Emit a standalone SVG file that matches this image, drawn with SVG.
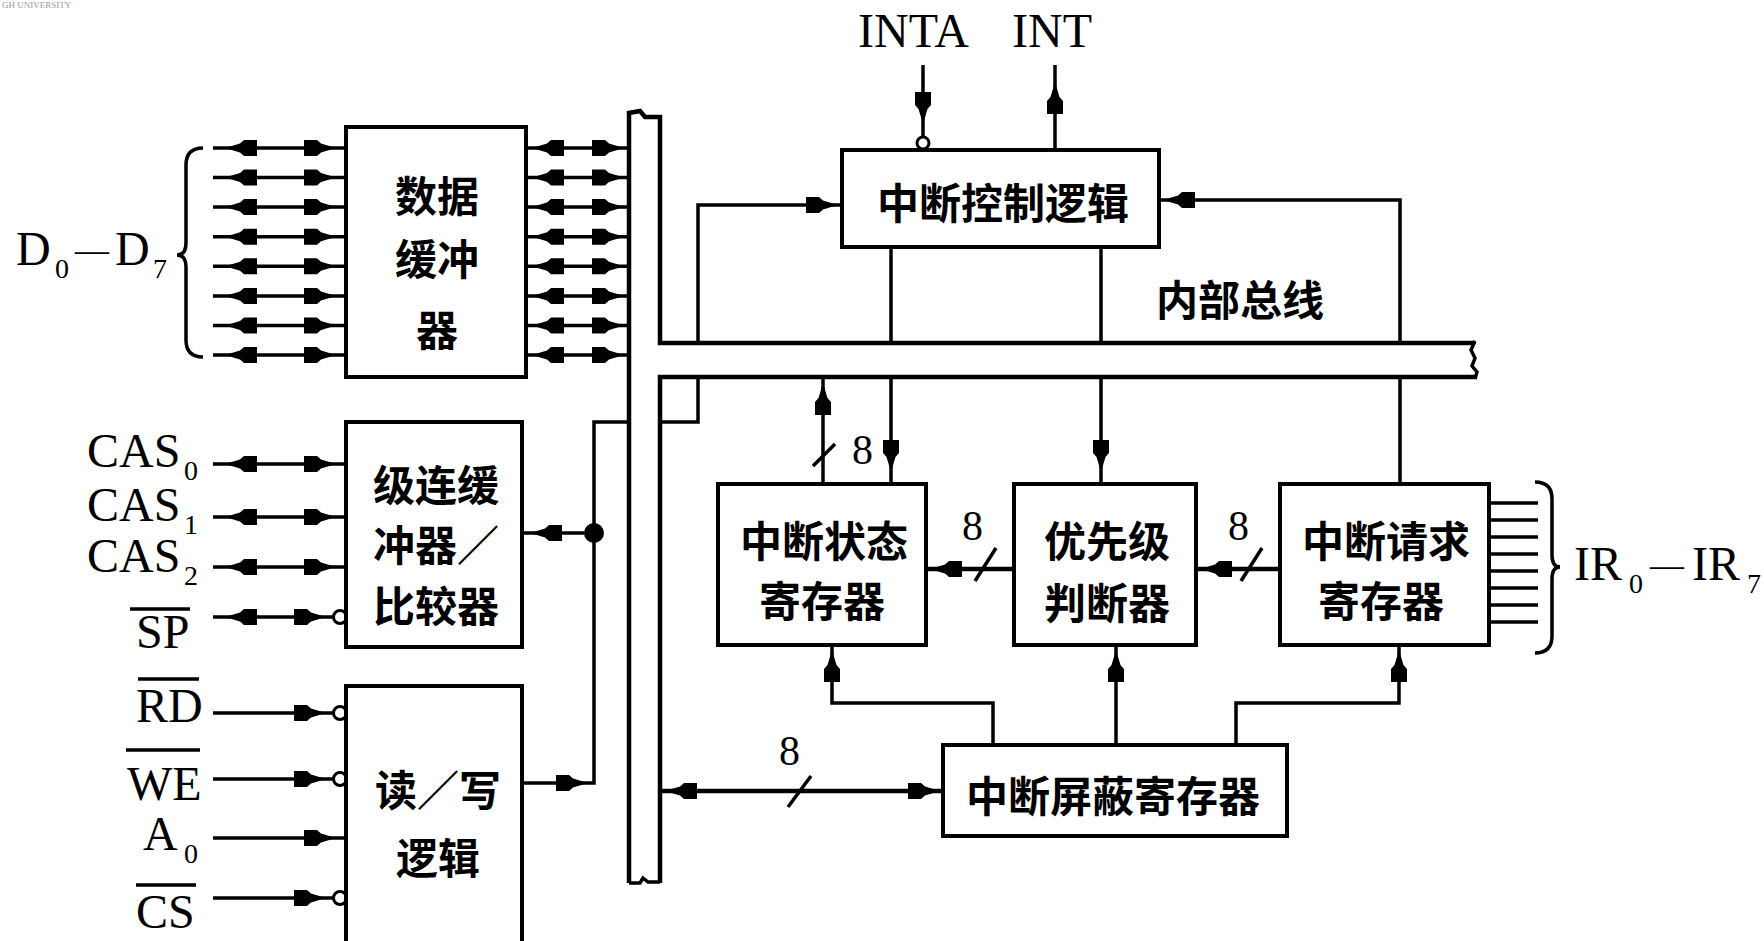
<svg xmlns="http://www.w3.org/2000/svg" xmlns:xlink="http://www.w3.org/1999/xlink" width="1764" height="941" viewBox="0 0 1764 941">
<style>
.ln{stroke:#000;stroke-width:3.5;fill:none}
.tk{stroke:#000;stroke-width:4.5;fill:none}
.box{stroke:#000;stroke-width:4;fill:#fff}
.bub{stroke:#000;stroke-width:3;fill:#fff}
.cjk{font-family:"Noto Sans CJK SC","Noto Sans CJK TC",sans-serif;font-size:42px;text-anchor:middle;dominant-baseline:central;font-weight:700;fill:#000}
.lat{font-family:"Liberation Serif",serif;font-size:48px;fill:#000}
.sub{font-size:28px}
.num{font-family:"Liberation Serif",serif;font-size:42px;fill:#000}
.wm{font-family:"Liberation Serif",serif;font-size:9px;fill:#999}
</style>
<defs>
<path id="ah" d="M0,0 L-15,-4.5 L-19,-8 L-32,-8 L-32,8 L-19,8 L-15,4.5 Z" fill="#000"/>
</defs>
<rect width="1764" height="941" fill="#fff"/>
<text class="wm" x="2" y="8">GH UNIVERSITY</text>

<!-- buses -->
<g id="system-bus">
<path class="tk" d="M629,883 L629,113 L640,111 L645,117 L660,117 L660,343 L1475,343"/>
<path class="tk" d="M660,883 L660,377 L1475,377"/>
<path class="ln" d="M629,883 L640,883 L643,878 L648,882 L660,882"/>
<path class="ln" d="M1475,341 L1471,350 L1475,358 L1472,366 L1477,372 L1475,379"/>
</g>

<!-- connectors -->
<g id="connectors">
<g class="ln">
<path d="M213,148 H346 M213,177.6 H346 M213,207.1 H346 M213,236.7 H346 M213,266.3 H346 M213,295.9 H346 M213,325.4 H346 M213,355 H346"/>
<path d="M526,148 H629 M526,177.6 H629 M526,207.1 H629 M526,236.7 H629 M526,266.3 H629 M526,295.9 H629 M526,325.4 H629 M526,355 H629"/>
</g>
<g>
<use href="#ah" transform="translate(225,148) rotate(180)"/><use href="#ah" transform="translate(336,148)"/>
<use href="#ah" transform="translate(225,177.6) rotate(180)"/><use href="#ah" transform="translate(336,177.6)"/>
<use href="#ah" transform="translate(225,207.1) rotate(180)"/><use href="#ah" transform="translate(336,207.1)"/>
<use href="#ah" transform="translate(225,236.7) rotate(180)"/><use href="#ah" transform="translate(336,236.7)"/>
<use href="#ah" transform="translate(225,266.3) rotate(180)"/><use href="#ah" transform="translate(336,266.3)"/>
<use href="#ah" transform="translate(225,295.9) rotate(180)"/><use href="#ah" transform="translate(336,295.9)"/>
<use href="#ah" transform="translate(225,325.4) rotate(180)"/><use href="#ah" transform="translate(336,325.4)"/>
<use href="#ah" transform="translate(225,355) rotate(180)"/><use href="#ah" transform="translate(336,355)"/>
<use href="#ah" transform="translate(532,148) rotate(180)"/><use href="#ah" transform="translate(624,148)"/>
<use href="#ah" transform="translate(532,177.6) rotate(180)"/><use href="#ah" transform="translate(624,177.6)"/>
<use href="#ah" transform="translate(532,207.1) rotate(180)"/><use href="#ah" transform="translate(624,207.1)"/>
<use href="#ah" transform="translate(532,236.7) rotate(180)"/><use href="#ah" transform="translate(624,236.7)"/>
<use href="#ah" transform="translate(532,266.3) rotate(180)"/><use href="#ah" transform="translate(624,266.3)"/>
<use href="#ah" transform="translate(532,295.9) rotate(180)"/><use href="#ah" transform="translate(624,295.9)"/>
<use href="#ah" transform="translate(532,325.4) rotate(180)"/><use href="#ah" transform="translate(624,325.4)"/>
<use href="#ah" transform="translate(532,355) rotate(180)"/><use href="#ah" transform="translate(624,355)"/>
</g>
<path class="ln" d="M203,148 Q186,148 186,165 L186,243 Q186,255 177,255 Q186,255 186,267 L186,340 Q186,357 203,357"/>

<path class="ln" d="M213,464 H346 M213,517 H346 M213,567 H346 M213,617 H333"/>
<use href="#ah" transform="translate(225,464) rotate(180)"/><use href="#ah" transform="translate(336,464)"/>
<use href="#ah" transform="translate(225,517) rotate(180)"/><use href="#ah" transform="translate(336,517)"/>
<use href="#ah" transform="translate(225,567) rotate(180)"/><use href="#ah" transform="translate(336,567)"/>
<use href="#ah" transform="translate(225,617) rotate(180)"/><use href="#ah" transform="translate(326,617)"/>
<circle class="bub" cx="340" cy="617" r="6.5"/>

<path class="ln" d="M213,713 H333 M213,779 H333 M213,838 H346 M213,898 H333"/>
<use href="#ah" transform="translate(326,713)"/>
<use href="#ah" transform="translate(326,779)"/>
<use href="#ah" transform="translate(336,838)"/>
<use href="#ah" transform="translate(326,898)"/>
<circle class="bub" cx="340" cy="713" r="6.5"/>
<circle class="bub" cx="340" cy="779" r="6.5"/>
<circle class="bub" cx="340" cy="898" r="6.5"/>

<path class="ln" d="M522,533 H594 M522,783 H594 V422 H629"/>
<circle cx="594" cy="533" r="10" fill="#000"/>
<use href="#ah" transform="translate(530,533) rotate(180)"/>
<use href="#ah" transform="translate(588,783)"/>

<path class="ln" d="M660,422 H698 V377"/>
<path class="ln" d="M698,343 V205 H842"/>
<use href="#ah" transform="translate(838,205)"/>
<path class="ln" d="M1400,343 V200 H1159"/>
<use href="#ah" transform="translate(1163,200) rotate(180)"/>
<path class="ln" d="M891,247 V343 M1101,247 V343"/>

<path class="ln" d="M923,65 V136"/>
<use href="#ah" transform="translate(923,124) rotate(90)"/>
<circle class="bub" cx="923" cy="143" r="6"/>
<path class="ln" d="M1055,150 V65"/>
<use href="#ah" transform="translate(1055,82) rotate(-90)"/>

<path class="ln" d="M891,377 V484"/>
<use href="#ah" transform="translate(891,472) rotate(90)"/>
<path class="ln" d="M1101,377 V484"/>
<use href="#ah" transform="translate(1101,472) rotate(90)"/>
<path class="ln" d="M1400,377 V484"/>
<path class="ln" d="M823,484 V377"/>
<use href="#ah" transform="translate(823,383) rotate(-90)"/>
<path class="ln" d="M813,466 L835,444"/>
<text class="num" x="852" y="464">8</text>

<path class="tk" d="M1014,569 H926"/>
<use href="#ah" transform="translate(930,569) rotate(180)"/>
<path class="ln" d="M975,581 L996,548"/>
<text class="num" x="962" y="540">8</text>
<path class="tk" d="M1280,569 H1196"/>
<use href="#ah" transform="translate(1200,569) rotate(180)"/>
<path class="ln" d="M1241,581 L1262,548"/>
<text class="num" x="1228" y="540">8</text>

<path class="ln" d="M1489,503 H1538 M1489,520 H1538 M1489,537 H1538 M1489,554 H1538 M1489,571 H1538 M1489,588 H1538 M1489,605 H1538 M1489,622 H1538"/>
<path class="ln" d="M1535,482 Q1552,482 1552,499 L1552,555 Q1552,567 1560,567 Q1552,567 1552,579 L1552,636 Q1552,653 1535,653"/>

<path class="ln" d="M993,745 V703 H832 V645"/>
<use href="#ah" transform="translate(832,650) rotate(-90)"/>
<path class="ln" d="M1116,745 V645"/>
<use href="#ah" transform="translate(1116,650) rotate(-90)"/>
<path class="ln" d="M1236,745 V703 H1399 V645"/>
<use href="#ah" transform="translate(1399,650) rotate(-90)"/>

<path class="tk" d="M660,791 H943"/>
<use href="#ah" transform="translate(665,791) rotate(180)"/>
<use href="#ah" transform="translate(940,791)"/>
<path class="ln" d="M788,807 L811,776"/>
<text class="num" x="779" y="765">8</text>
</g>

<g id="data-buffer">
<rect class="box" x="346" y="127" width="180" height="250"/>
<text class="cjk" x="437" y="193" font-size="44">数据</text>
<text class="cjk" x="437" y="256" font-size="44">缓冲</text>
<text class="cjk" x="437" y="327" font-size="44">器</text>
</g>
<g id="cascade-buffer">
<rect class="box" x="346" y="422" width="176" height="225"/>
<text class="cjk" x="436" y="482">级连缓</text>
<text class="cjk" x="436" y="542">冲器／</text>
<text class="cjk" x="436" y="603">比较器</text>
</g>
<g id="rw-logic">
<rect class="box" x="346" y="686" width="176" height="270"/>
<text class="cjk" x="438" y="787">读／写</text>
<text class="cjk" x="438" y="855">逻辑</text>
</g>
<g id="int-control">
<rect class="box" x="842" y="150" width="317" height="97"/>
<text class="cjk" x="1003" y="200">中断控制逻辑</text>
</g>
<g id="isr">
<rect class="box" x="718" y="484" width="208" height="161"/>
<text class="cjk" x="824" y="538">中断状态</text>
<text class="cjk" x="822" y="598">寄存器</text>
</g>
<g id="priority">
<rect class="box" x="1014" y="484" width="182" height="161"/>
<text class="cjk" x="1107" y="538">优先级</text>
<text class="cjk" x="1107" y="600">判断器</text>
</g>
<g id="irr">
<rect class="box" x="1280" y="484" width="209" height="161"/>
<text class="cjk" x="1386" y="538">中断请求</text>
<text class="cjk" x="1381" y="598">寄存器</text>
</g>
<g id="imr">
<rect class="box" x="943" y="745" width="344" height="91"/>
<text class="cjk" x="1113" y="793">中断屏蔽寄存器</text>
</g>

<g id="labels">
<text class="cjk" x="1240" y="297">内部总线</text>
<text class="lat" x="858" y="47">INTA</text>
<text class="lat" x="1012" y="47">INT</text>
<text class="lat" x="16" y="265">D<tspan class="sub" x="55" y="278">0</tspan><tspan x="75" y="261" font-size="34">—</tspan><tspan x="115" y="265">D</tspan><tspan class="sub" x="153" y="278">7</tspan></text>
<text class="lat" x="87" y="467">CAS<tspan class="sub" x="184" y="480">0</tspan></text>
<text class="lat" x="87" y="521">CAS<tspan class="sub" x="184" y="534">1</tspan></text>
<text class="lat" x="87" y="572">CAS<tspan class="sub" x="184" y="585">2</tspan></text>
<text class="lat" x="136" y="648">SP</text>
<text class="lat" x="136" y="722">RD</text>
<text class="lat" x="127" y="800">WE</text>
<text class="lat" x="143" y="850">A<tspan class="sub" x="184" y="863">0</tspan></text>
<text class="lat" x="136" y="928">CS</text>
<path class="ln" d="M130,609 H190 M138,679 H199 M126,750 H200 M136,885 H196" stroke-width="3"/>
<text class="lat" x="1574" y="580">IR<tspan class="sub" x="1629" y="593">0</tspan><tspan x="1650" y="576" font-size="34">—</tspan><tspan x="1692" y="580">IR</tspan><tspan class="sub" x="1747" y="593">7</tspan></text>
</g>
</svg>
